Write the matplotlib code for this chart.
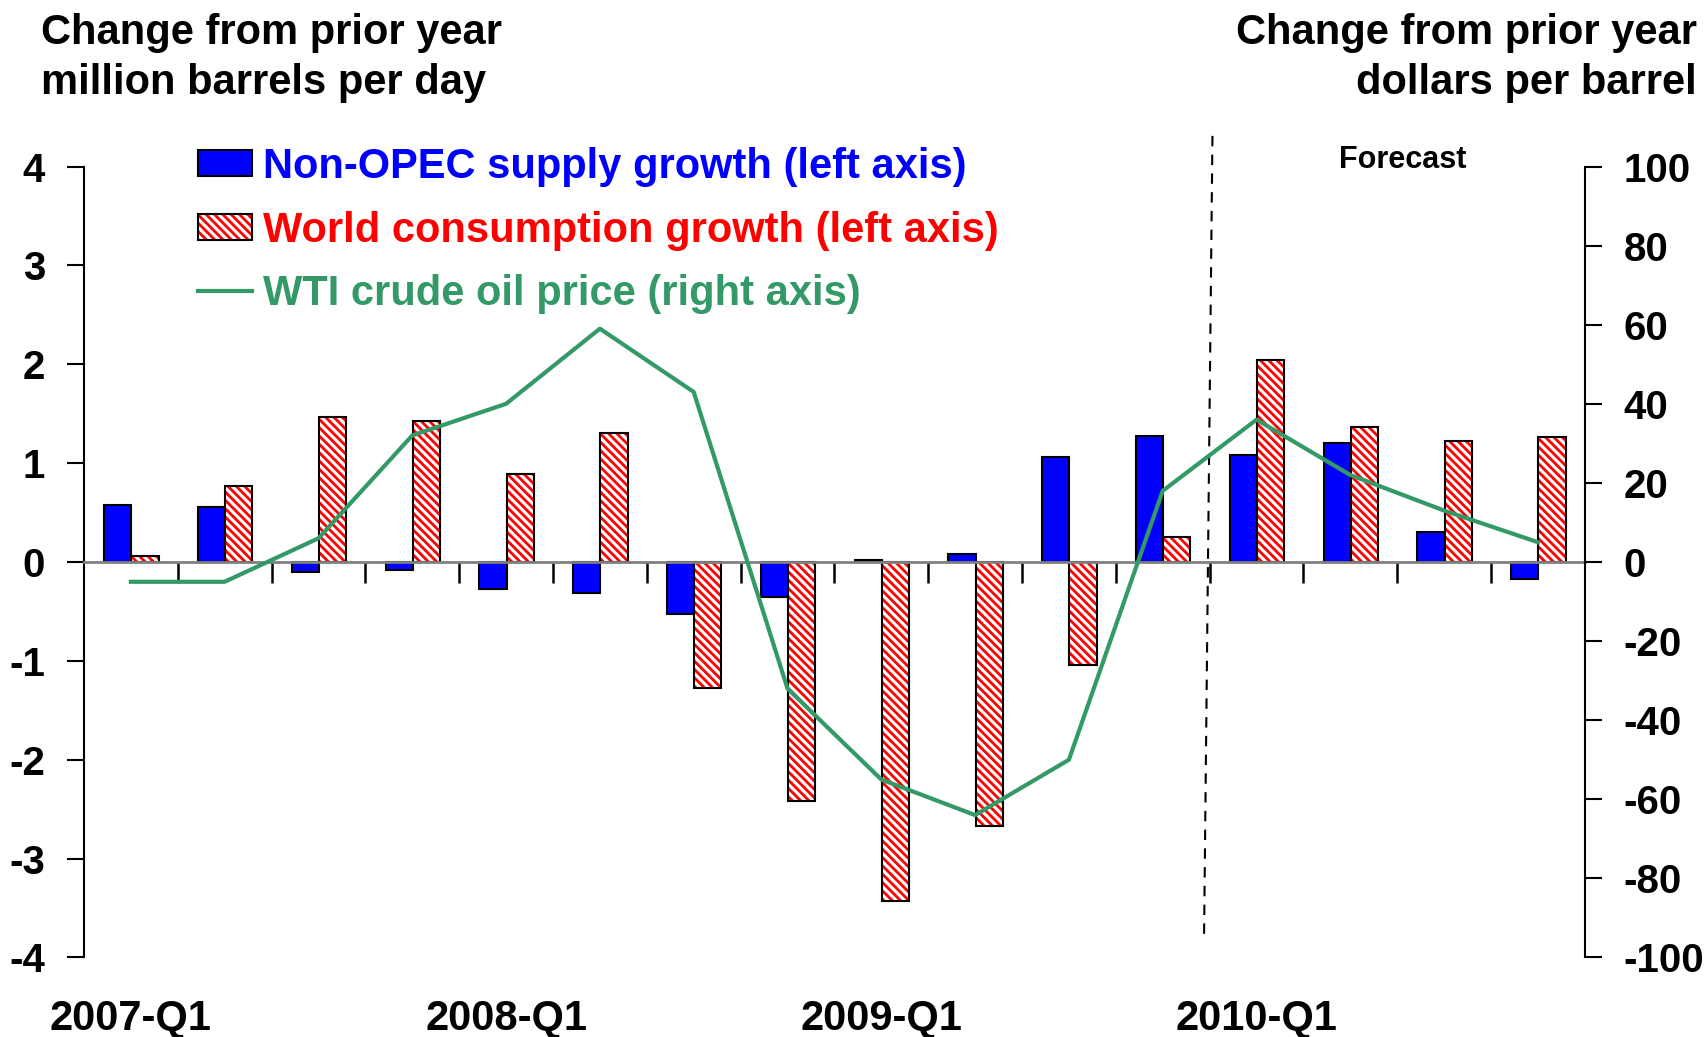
import numpy as np
import matplotlib
matplotlib.use("Agg")
import matplotlib.pyplot as plt
from matplotlib.patches import Patch
from matplotlib.lines import Line2D
from matplotlib.legend_handler import HandlerTuple

plt.rcParams['font.family'] = ['Liberation Sans', 'DejaVu Sans']
plt.rcParams['font.weight'] = 'bold'
plt.rcParams['hatch.linewidth'] = 2.0
plt.rcParams['axes.unicode_minus'] = False

# quarters 2007-Q1 .. 2010-Q4
quarters = ['2007-Q1', '2007-Q2', '2007-Q3', '2007-Q4',
            '2008-Q1', '2008-Q2', '2008-Q3', '2008-Q4',
            '2009-Q1', '2009-Q2', '2009-Q3', '2009-Q4',
            '2010-Q1', '2010-Q2', '2010-Q3', '2010-Q4']
year_labels = ['2007-Q1', '2008-Q1', '2009-Q1', '2010-Q1']
non_opec = [0.58, 0.56, -0.10, -0.08, -0.27, -0.31, -0.53, -0.35,
            0.02, 0.08, 1.06, 1.27, 1.08, 1.20, 0.30, -0.17]
world_cons = [0.06, 0.77, 1.47, 1.43, 0.89, 1.30, -1.27, -2.42,
              -3.43, -2.67, -1.04, 0.25, 2.04, 1.37, 1.22, 1.26]
wti = [-5, -5, 6, 32, 40, 59, 43, -32, -55, -64, -50, 18, 36, 22, 13, 5]

BLUE = '#0000FF'
RED = '#FF0000'
GREEN = '#339966'
HATCH = '\\' * 4

fig = plt.figure(figsize=(17.06, 10.37), dpi=100)
ax = fig.add_axes([0.0492, 0.0767, 0.8798, 0.7627])

x = np.arange(len(quarters))
w = 0.29
ax.bar(x - 0.14, non_opec, w, color=BLUE, edgecolor='black', linewidth=1.5, zorder=3)
ax.bar(x + 0.15, world_cons, w, color='white', edgecolor=RED, hatch=HATCH,
       linewidth=0, zorder=3)
ax.bar(x + 0.15, world_cons, w, fill=False, edgecolor='black', linewidth=1.5, zorder=4)

ax.set_xlim(-0.5, len(quarters) - 0.5)
ax.set_ylim(-4, 4)
ax.set_yticks(np.arange(-4, 5, 1))
ax.tick_params(axis='y', direction='out', length=12, width=1.5, labelsize=29, pad=16)

# zero line as bottom spine with ticks between quarters
ax.spines['top'].set_visible(False)
ax.spines['right'].set_visible(False)
ax.spines['bottom'].set_position(('data', 0))
ax.spines['bottom'].set_color('#808080')
ax.spines['bottom'].set_linewidth(2)
ax.spines['bottom'].set_zorder(5)
ax.spines['left'].set_linewidth(1.5)
ax.set_xticks(x[1:] - 0.5)
ax.set_xticklabels([])
ax.tick_params(axis='x', direction='out', length=15, width=1.8, color='black')

for lab in year_labels:
    ax.text(quarters.index(lab), -0.078, lab, transform=ax.get_xaxis_transform(),
            ha='center', va='center', fontsize=30, fontweight='bold')

ax2 = ax.twinx()
ax2.plot(x, wti, color=GREEN, linewidth=3.0, zorder=6)
ax2.set_ylim(-100, 100)
ax2.set_yticks(np.arange(-100, 101, 20))
ax2.tick_params(axis='y', direction='out', length=12, width=1.5, labelsize=29, pad=16)
for s in ['top', 'bottom', 'left']:
    ax2.spines[s].set_visible(False)
ax2.spines['right'].set_linewidth(1.5)

# forecast divider
ax.plot([11.53, 11.44], [4.31, -3.83], color='black', linestyle=(0, (5, 4)),
        linewidth=1.5, clip_on=False, zorder=7)
ax.text(13.56, 4.07, 'Forecast', ha='center', va='center', fontsize=22, fontweight='bold')

# legend
h_blue = Patch(facecolor=BLUE, edgecolor='black', linewidth=1.5)
h_red = (Patch(facecolor='white', edgecolor=RED, hatch=HATCH, linewidth=0),
         Patch(fill=False, edgecolor='black', linewidth=1.5))
h_green = Line2D([], [], color=GREEN, linewidth=3.0)
leg = ax2.legend([h_blue, h_red, h_green],
                 ['Non-OPEC supply growth (left axis)',
                  'World consumption growth (left axis)',
                  'WTI crude oil price (right axis)'],
                 handler_map={tuple: HandlerTuple(ndivide=1, pad=0)},
                 loc='upper left', bbox_to_anchor=(0.076, 1.025), frameon=False,
                 prop={'size': 30, 'weight': 'bold'}, labelcolor=[BLUE, RED, GREEN],
                 handlelength=1.3, handleheight=0.6, handletextpad=0.26,
                 labelspacing=0.57, borderpad=0, borderaxespad=0)

fig.text(0.024, 0.987, 'Change from prior year\nmillion barrels per day',
         ha='left', va='top', fontsize=30, fontweight='bold', linespacing=1.3)
fig.text(0.9947, 0.987, 'Change from prior year\ndollars per barrel',
         ha='right', va='top', fontsize=30, fontweight='bold', linespacing=1.3,
         multialignment='right')

fig.savefig('out.png', dpi=100)
